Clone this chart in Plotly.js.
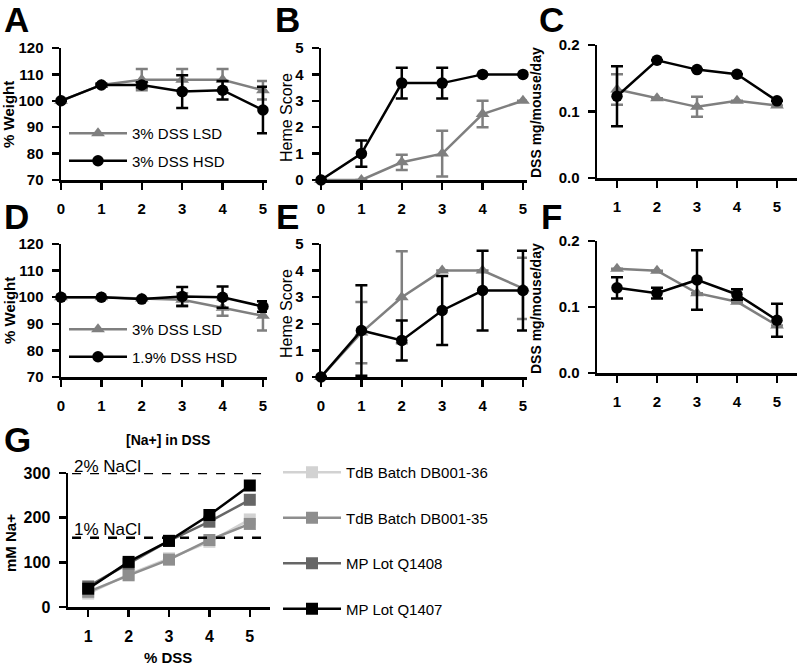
<!DOCTYPE html>
<html>
<head>
<meta charset="utf-8">
<script src="https://cdn.plot.ly/plotly-3.0.1.min.js"></script>
<style>html,body{margin:0;padding:0;background:#fff;}#chart{width:800px;height:665px;}</style>
</head>
<body>
<div id="chart"></div>
<script>
// ---------- data ----------
const days = [0, 1, 2, 3, 4, 5];
const days15 = [1, 2, 3, 4, 5];
const dssPct = [1, 2, 3, 4, 5];

// Panel A: % weight, 3% DSS LSD vs 3% DSS HSD
const wtA_LSD = [100, 106, 108, 108, 108, 104];
const wtA_LSD_err = [0, 0.5, 4, 4, 4, 3.5];
const wtA_HSD = [100, 106, 106, 103.5, 104, 96.5];
const wtA_HSD_err = [0, 0.5, 1, 6.2, 3.5, 8.8];

// Panel B: heme score
const hemeB_LSD = [0, 0, 0.67, 1, 2.5, 3];
const hemeB_LSD_err = [0, 0, 0.29, 0.87, 0.5, 0];
const hemeB_HSD = [0, 1, 3.67, 3.67, 4, 4];
const hemeB_HSD_err = [0, 0.5, 0.58, 0.58, 0, 0];

// Panel C: DSS mg/mouse/day
const dssC_LSD = [0.133, 0.12, 0.107, 0.116, 0.109];
const dssC_LSD_err = [0.023, 0, 0.015, 0, 0];
const dssC_HSD = [0.123, 0.177, 0.163, 0.156, 0.116];
const dssC_HSD_err = [0.045, 0, 0, 0, 0];

// Panel D: % weight, 3% DSS LSD vs 1.9% DSS HSD
const wtD_LSD = [100, 100, 99.5, 99, 96, 93];
const wtD_LSD_err = [0, 0, 0, 2.5, 3, 5.5];
const wtD_HSD = [100, 100, 99.3, 100.3, 100, 96.5];
const wtD_HSD_err = [0, 0, 0, 3.5, 4, 2];

// Panel E: heme score
const hemeE_LSD = [0, 1.67, 3, 4, 4, 3.33];
const hemeE_LSD_err = [0, 1.15, 1.73, 0, 0, 1.15];
const hemeE_HSD = [0, 1.75, 1.375, 2.5, 3.25, 3.25];
const hemeE_HSD_err = [0, 1.7, 0.75, 1.3, 1.5, 1.5];

// Panel F: DSS mg/mouse/day
const dssF_LSD = [0.158, 0.155, 0.121, 0.108, 0.072];
const dssF_LSD_err = [0, 0, 0, 0, 0];
const dssF_HSD = [0.129, 0.121, 0.141, 0.119, 0.08];
const dssF_HSD_err = [0.016, 0.008, 0.045, 0.008, 0.025];

// Panel G: [Na+] in DSS
const naDB36 = [30, 73, 109, 146, 196];
const naDB35 = [34, 71, 106, 150, 186];
const naQ1408 = [46, 97, 148, 191, 240];
const naQ1407 = [41, 101, 148, 206, 272];
const seriesG = ['TdB Batch DB001-36', 'TdB Batch DB001-35', 'MP Lot Q1408', 'MP Lot Q1407'];
const nacl2 = 300;
const nacl1 = 155;

const panelLetters = ['A', 'B', 'C', 'D', 'E', 'F', 'G'];
const weightTicks = [70, 80, 90, 100, 110, 120];
const hemeTicks = [0, 1, 2, 3, 4, 5];
const dssTicks = [0, 0.1, 0.2];
const naTicks = [0, 100, 200, 300];

// ---------- layout helpers ----------
const W = 800, H = 665;
const FONT = 'Liberation Sans, Arial, Helvetica, sans-serif';
const GRAY = '#7f7f7f';
const px = (a, b) => [a / W, b / W];
const py = (top, bottom) => [1 - bottom / H, 1 - top / H];
const TICKFONT = {family: FONT, size: 15, color: '#000', weight: 'bold'};

function axis(dom, anchor, range, tickvals, isX, extra) {
  return Object.assign({
    domain: dom, anchor: anchor, range: range, tickvals: tickvals,
    showline: true, linecolor: '#000', linewidth: 2.5, mirror: false,
    ticks: 'outside', ticklen: 7, tickwidth: 2.5, tickcolor: '#000',
    showgrid: false, zeroline: false, fixedrange: true,
    tickfont: TICKFONT,
    ticklabelstandoff: isX ? 6 : 5
  }, extra || {});
}

function series(x, y, err, xa, ya, color, symbol, name, legend, showlegend, group) {
  return {
    type: 'scatter', mode: 'lines+markers', x: x, y: y, name: name,
    xaxis: xa, yaxis: ya, cliponaxis: false,
    legend: legend || 'legend', showlegend: !!showlegend,
    legendgroup: group || undefined,
    line: {color: color, width: 2.5},
    marker: {color: color, symbol: symbol, size: symbol === 'circle' ? 11.5 : 12},
    error_y: {type: 'data', array: err, visible: true, color: color, thickness: 2.5, width: 6}
  };
}

const traces = [
  // A
  series(days, wtA_LSD, wtA_LSD_err, 'x', 'y', GRAY, 'triangle-up', '3% DSS LSD', 'legend', true, 'a1'),
  series(days, wtA_HSD, wtA_HSD_err, 'x', 'y', '#000', 'circle', '3% DSS HSD', 'legend', true, 'a2'),
  // B
  series(days, hemeB_LSD, hemeB_LSD_err, 'x2', 'y2', GRAY, 'triangle-up', '3% DSS LSD'),
  series(days, hemeB_HSD, hemeB_HSD_err, 'x2', 'y2', '#000', 'circle', '3% DSS HSD'),
  // C
  series(days15, dssC_LSD, dssC_LSD_err, 'x3', 'y3', GRAY, 'triangle-up', '3% DSS LSD'),
  series(days15, dssC_HSD, dssC_HSD_err, 'x3', 'y3', '#000', 'circle', '3% DSS HSD'),
  // D
  series(days, wtD_LSD, wtD_LSD_err, 'x4', 'y4', GRAY, 'triangle-up', '3% DSS LSD', 'legend2', true, 'd1'),
  series(days, wtD_HSD, wtD_HSD_err, 'x4', 'y4', '#000', 'circle', '1.9% DSS HSD', 'legend2', true, 'd2'),
  // E
  series(days, hemeE_LSD, hemeE_LSD_err, 'x5', 'y5', GRAY, 'triangle-up', '3% DSS LSD'),
  series(days, hemeE_HSD, hemeE_HSD_err, 'x5', 'y5', '#000', 'circle', '1.9% DSS HSD'),
  // F
  series(days15, dssF_LSD, dssF_LSD_err, 'x6', 'y6', GRAY, 'triangle-up', '3% DSS LSD'),
  series(days15, dssF_HSD, dssF_HSD_err, 'x6', 'y6', '#000', 'circle', '1.9% DSS HSD')
];

const gData = [naDB36, naDB35, naQ1408, naQ1407];
const gColors = ['#d2d2d2', '#8e8e8e', '#666666', '#000000'];
gData.forEach((d, i) => {
  traces.push({
    type: 'scatter', mode: 'lines+markers', x: dssPct, y: d, name: seriesG[i],
    xaxis: 'x7', yaxis: 'y7', cliponaxis: false, legend: 'legend3', showlegend: true,
    legendgroup: 'g' + i,
    line: {color: gColors[i], width: 2.5},
    marker: {color: gColors[i], symbol: 'square', size: 12}
  });
});

const legendBase = {
  bgcolor: 'rgba(0,0,0,0)', borderwidth: 0, xanchor: 'left', yanchor: 'top',
  xref: 'paper', yref: 'paper', itemwidth: 58, traceorder: 'grouped',
  font: {family: FONT, size: 15, color: '#000'}
};

const layout = {
  width: W, height: H, margin: {l: 0, r: 0, t: 0, b: 0},
  paper_bgcolor: '#fff', plot_bgcolor: 'rgba(0,0,0,0)',
  font: {family: FONT, color: '#000'},
  xaxis:  axis(px(61, 267), 'y',  [0, 5.1], days, true),
  yaxis:  axis(py(48, 180), 'x',  [70, 120], weightTicks, false),
  xaxis2: axis(px(321, 527), 'y2', [0, 5.1], days, true),
  yaxis2: axis(py(48, 180), 'x2', [0, 5], hemeTicks, false),
  xaxis3: axis(px(597, 797), 'y3', [0.5, 5.5], days15, true),
  yaxis3: axis(py(45, 178), 'x3', [0, 0.2], dssTicks, false, {tickformat: '.1f'}),
  xaxis4: axis(px(61, 267), 'y4', [0, 5.1], days, true),
  yaxis4: axis(py(244, 377), 'x4', [70, 120], weightTicks, false),
  xaxis5: axis(px(321, 527), 'y5', [0, 5.1], days, true),
  yaxis5: axis(py(244, 377), 'x5', [0, 5], hemeTicks, false),
  xaxis6: axis(px(597, 797), 'y6', [0.5, 5.5], days15, true),
  yaxis6: axis(py(241, 373), 'x6', [0, 0.2], dssTicks, false, {tickformat: '.1f'}),
  xaxis7: axis(px(68, 270), 'y7', [0.5, 5.5], dssPct, true, {tickfont: {family: FONT, size: 16, color: '#000', weight: 'bold'}}),
  yaxis7: axis(py(473, 607), 'x7', [0, 300], naTicks, false, {tickfont: {family: FONT, size: 16, color: '#000', weight: 'bold'}}),
  legend:  Object.assign({}, legendBase, {x: 64 / W, y: 1 - 117 / H, tracegroupgap: 5}),
  legend2: Object.assign({}, legendBase, {x: 64 / W, y: 1 - 313 / H, tracegroupgap: 5}),
  legend3: Object.assign({}, legendBase, {x: 278 / W, y: 1 - 456 / H, tracegroupgap: 23}),
  shapes: [nacl2, nacl1].map(v => ({
    type: 'line', xref: 'x7 domain', yref: 'y7', x0: 0.02, x1: 1.0, y0: v, y1: v,
    line: {color: '#000', width: 2.5, dash: 'dash'}
  })),
  annotations: []
};

const ann = layout.annotations;
function txt(text, x, y, size, weight, angle, extra) {
  ann.push(Object.assign({
    text: text, xref: 'paper', yref: 'paper', x: x / W, y: 1 - y / H,
    xanchor: 'center', yanchor: 'middle', showarrow: false,
    textangle: angle || 0,
    font: {family: FONT, size: size, color: '#000', weight: weight || 'normal'}
  }, extra || {}));
}
// panel letters
const letterPos = [[16, 19], [287, 19], [551, 19], [16, 216], [287, 216], [551, 216], [17, 439]];
panelLetters.forEach((l, i) => txt(l, letterPos[i][0], letterPos[i][1], 35, 'bold'));
// axis titles
txt('% Weight', 9, 115, 15, 'bold', -90);
txt('% Weight', 9, 311, 15, 'bold', -90);
txt('Heme Score', 286, 118, 16, 'normal', -90);
txt('Heme Score', 286, 314, 16, 'normal', -90);
txt('DSS mg/mouse/day', 536, 113, 14, 'bold', -90);
txt('DSS mg/mouse/day', 536, 309, 14, 'bold', -90);
txt('mM Na+', 10, 543, 15, 'bold', -90);
txt('% DSS', 168, 657, 15, 'bold');
txt('[Na+] in DSS', 168, 440, 14, 'bold');
txt('2% NaCl', 72, 466, 17, 'normal', 0, {xanchor: 'left'});
txt('1% NaCl', 72, 529, 17, 'normal', 0, {xanchor: 'left'});

Plotly.newPlot('chart', traces, layout, {displayModeBar: false, staticPlot: true});
</script>
</body>
</html>
